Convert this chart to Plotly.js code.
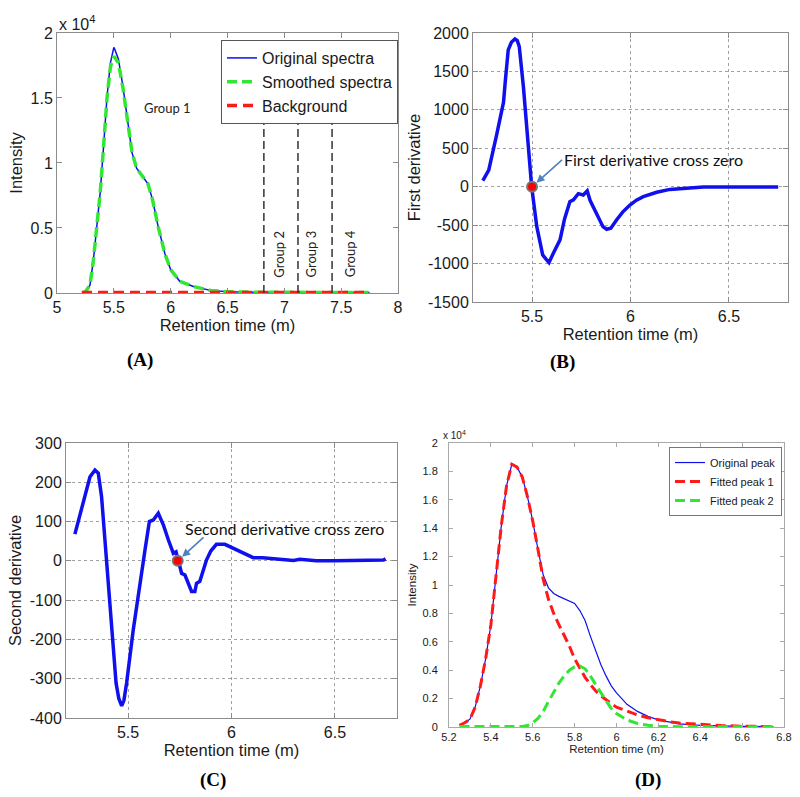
<!DOCTYPE html>
<html><head><meta charset="utf-8">
<script src="https://cdn.plot.ly/plotly-3.0.1.min.js"></script>
<style>html,body{margin:0;padding:0;background:#fff}#chart{width:800px;height:797px}</style>
</head><body><div id="chart"></div>
<script>
// ---------- Panel A (intensity in units of 1e4) ----------
const timeA      = [5.22,5.25,5.29,5.32,5.35,5.38,5.41,5.44,5.47,5.49,5.50,5.51,5.54,5.58,5.62,5.66,5.70,5.75,5.80,5.84,5.89,5.95,6.00,6.08,6.20,6.35,6.50,6.80,7.10,7.40,7.75];
const originalA  = [0.00,0.01,0.06,0.25,0.51,0.77,1.13,1.51,1.77,1.86,1.89,1.87,1.80,1.59,1.33,1.08,0.96,0.90,0.84,0.72,0.51,0.30,0.18,0.09,0.05,0.02,0.01,0.005,0.004,0.004,0.004];
const smoothedA  = [0.00,0.01,0.06,0.25,0.51,0.77,1.13,1.50,1.74,1.81,1.82,1.81,1.77,1.58,1.33,1.08,0.96,0.90,0.84,0.72,0.51,0.30,0.18,0.09,0.05,0.02,0.01,0.005,0.004,0.004,0.004];
const backgroundX = [5.22, 7.75];
const backgroundY = [0.003, 0.003];
const groupBounds = [6.82, 7.12, 7.42];
const groupNames  = ['Group 1','Group 2','Group 3','Group 4'];
const groupNameX  = [5.97, 6.95, 7.23, 7.58];
const groupNameY  = [1.42, 0.30, 0.30, 0.30];

// ---------- Panel B: first derivative ----------
const timeB  = [5.25,5.28,5.32,5.355,5.365,5.379,5.395,5.413,5.425,5.435,5.456,5.476,5.498,5.524,5.554,5.57,5.586,5.608,5.642,5.665,5.692,5.71,5.735,5.76,5.78,5.795,5.811,5.837,5.86,5.879,5.90,5.929,5.96,5.997,6.03,6.065,6.10,6.133,6.20,6.25,6.30,6.37,6.45,6.55,6.65,6.75];
const firstDeriv = [79,217,673,1100,1400,1780,1880,1922,1900,1822,1301,651,0,-520,-888,-940,-988,-866,-692,-420,-195,-170,-90,-107,-55,-180,-260,-412,-520,-554,-540,-433,-330,-238,-175,-129,-95,-73,-35,-25,-12,-5,-3,-2,-3,-5];
const crossBX = [5.5], crossBY = [0];
const yTicksB = [-1500,-1000,-500,0,500,1000,1500,2000];
const yLabelsB = ['-1500','-1000','-500','0','500','1000','1500','2000'];

// ---------- Panel C: second derivative ----------
const timeC = [5.243,5.284,5.316,5.34,5.356,5.372,5.397,5.421,5.442,5.455,5.469,5.48,5.493,5.525,5.558,5.582,5.603,5.622,5.646,5.671,5.695,5.719,5.732,5.743,5.759,5.775,5.79,5.807,5.823,5.831,5.847,5.879,5.90,5.927,5.968,6.008,6.064,6.105,6.15,6.20,6.25,6.30,6.33,6.41,6.50,6.60,6.70,6.735,6.745];
const secondDeriv = [68,155,214,231,223,163,-6,-176,-311,-350,-369,-355,-311,-176,-49,28,100,104,121,91,53,19,23,-2,-32,-36,-55,-78,-78,-57,-52,2,25,42,42,32,19,8,8,5,4,1,4,0,0,0,0,2,5];
const crossCX = [5.74], crossCY = [0];
const yTicksC = [-400,-300,-200,-100,0,100,200,300];
const yLabelsC = ['-400','-300','-200','-100','0','100','200','300'];

// ---------- Panel D (intensity in units of 1e4) ----------
const timeD = [5.25,5.275,5.30,5.325,5.35,5.375,5.40,5.425,5.45,5.475,5.50,5.525,5.55,5.575,5.60,5.625,5.65,5.675,5.70,5.725,5.75,5.775,5.80,5.825,5.85,5.875,5.90,5.925,5.95,5.975,6.00,6.05,6.10,6.15,6.20,6.25,6.30,6.40,6.50,6.60,6.75];
const originalD = [0.012,0.03,0.055,0.14,0.29,0.48,0.72,1.08,1.42,1.70,1.85,1.83,1.76,1.62,1.45,1.25,1.07,0.98,0.94,0.92,0.905,0.89,0.87,0.82,0.75,0.64,0.54,0.44,0.36,0.29,0.24,0.16,0.11,0.075,0.05,0.035,0.022,0.012,0.007,0.004,0.002];
const fittedPeak1 = [0.012,0.03,0.055,0.14,0.29,0.48,0.72,1.08,1.42,1.70,1.85,1.83,1.76,1.62,1.45,1.25,1.04,0.90,0.80,0.72,0.645,0.57,0.48,0.41,0.35,0.30,0.255,0.22,0.19,0.165,0.14,0.11,0.085,0.065,0.05,0.038,0.028,0.017,0.010,0.006,0.003];
const fittedPeak2 = [0.003,0.003,0.003,0.003,0.003,0.003,0.003,0.003,0.003,0.003,0.003,0.003,0.004,0.01,0.03,0.06,0.11,0.18,0.25,0.31,0.36,0.40,0.425,0.43,0.41,0.36,0.30,0.24,0.18,0.13,0.095,0.05,0.025,0.012,0.006,0.003,0.002,0.002,0.002,0.002,0.002];

const F = 'Liberation Sans, Arial, sans-serif';
const BLUE = '#1010ee', GREEN = '#33e633', RED = '#ff1a1a';

const traces = [
  {x: timeA, y: originalA, xaxis:'x', yaxis:'y', mode:'lines', name:'Original spectra', line:{color:BLUE, width:1.5}, legend:'legend'},
  {x: timeA, y: smoothedA, xaxis:'x', yaxis:'y', mode:'lines', name:'Smoothed spectra', line:{color:GREEN, width:3.5, dash:'10px,5px'}, legend:'legend'},
  {x: backgroundX, y: backgroundY, xaxis:'x', yaxis:'y', mode:'lines', name:'Background', line:{color:RED, width:3.5, dash:'10px,6px'}, legend:'legend'},

  {x: timeB, y: firstDeriv, xaxis:'x2', yaxis:'y2', mode:'lines', showlegend:false, line:{color:BLUE, width:3.5}},
  {x: crossBX, y: crossBY, xaxis:'x2', yaxis:'y2', mode:'markers', showlegend:false, marker:{size:10, color:'#ff0000', line:{color:'#777', width:2}}},

  {x: timeC, y: secondDeriv, xaxis:'x3', yaxis:'y3', mode:'lines', showlegend:false, line:{color:BLUE, width:3.5}},
  {x: crossCX, y: crossCY, xaxis:'x3', yaxis:'y3', mode:'markers', showlegend:false, marker:{size:10, color:'#ff0000', line:{color:'#777', width:2}}},

  {x: timeD, y: originalD, xaxis:'x4', yaxis:'y4', mode:'lines', name:'Original peak', line:{color:BLUE, width:1.2}, legend:'legend2'},
  {x: timeD, y: fittedPeak1, xaxis:'x4', yaxis:'y4', mode:'lines', name:'Fitted peak 1', line:{color:RED, width:3, dash:'10px,5px'}, legend:'legend2'},
  {x: timeD, y: fittedPeak2, xaxis:'x4', yaxis:'y4', mode:'lines', name:'Fitted peak 2', line:{color:GREEN, width:3, dash:'10px,5px'}, legend:'legend2'}
];

function ax(extra, small) {
  return Object.assign({
    showline:true, linecolor:'#8c8c8c', linewidth:1, mirror:'ticks',
    ticks:'inside', ticklen: small ? 4 : 5, tickcolor:'#8c8c8c',
    zeroline:false, showgrid:false,
    tickfont:{family:F, size: small ? 11 : 16, color:'#1a1a1a'}
  }, extra);
}
const grid = {showgrid:true, gridcolor:'#a0a0a0', griddash:'dot', gridwidth:1};
const tfont = {family:F, size:16.5, color:'#1a1a1a'};
const sfont = {family:F, size:11.5, color:'#1a1a1a'};
const lfont = {family:'Liberation Serif, serif', size:19, color:'#000'};
const cfont = {family:'Lato, sans-serif', size:16, color:'#111'};

const shapes = groupBounds.map(b => ({type:'line', xref:'x', yref:'y', x0:b, x1:b, y0:0, y1:1.37, line:{color:'#333', width:1.5, dash:'8px,4px'}}));

const annotations = [
  {xref:'paper', yref:'paper', x:0.071, y:0.9711, xanchor:'left', yanchor:'middle', text:'x 10<sup>4</sup>', showarrow:false, font:{family:F, size:16, color:'#1a1a1a'}},
  {xref:'paper', yref:'paper', x:0.551, y:1-435/797, xanchor:'left', yanchor:'middle', text:'x 10<sup>4</sup>', showarrow:false, font:{family:F, size:10, color:'#1a1a1a'}},
  {xref:'x2', yref:'y2', x:crossBX[0], y:crossBY[0], axref:'x2', ayref:'y2', ax:5.652, ay:350, xanchor:'left', yanchor:'middle',
   text:'First derivative cross zero', showarrow:true, arrowhead:2, arrowsize:1, arrowwidth:1.6, arrowcolor:'#4f81bd', standoff:6, font:cfont},
  {xref:'x3', yref:'y3', x:crossCX[0], y:crossCY[0], axref:'x3', ayref:'y3', ax:5.872, ay:63, text:'', showarrow:true, arrowhead:2, arrowsize:1, arrowwidth:1.6, arrowcolor:'#4f81bd', standoff:6},
  {xref:'x3', yref:'y3', x:5.764, y:83, xanchor:'left', yanchor:'middle', text:'Second derivative cross zero', showarrow:false, font:cfont},
  {xref:'paper', yref:'paper', x:140/800, y:1-360/797, xanchor:'center', yanchor:'middle', text:'<b>(A)</b>', showarrow:false, font:lfont},
  {xref:'paper', yref:'paper', x:562/800, y:1-362/797, xanchor:'center', yanchor:'middle', text:'<b>(B)</b>', showarrow:false, font:lfont},
  {xref:'paper', yref:'paper', x:213/800, y:1-780/797, xanchor:'center', yanchor:'middle', text:'<b>(C)</b>', showarrow:false, font:lfont},
  {xref:'paper', yref:'paper', x:648/800, y:1-780/797, xanchor:'center', yanchor:'middle', text:'<b>(D)</b>', showarrow:false, font:lfont}
];
groupNames.forEach((g, i) => annotations.push({
  xref:'x', yref:'y', x:groupNameX[i], y:groupNameY[i], xanchor:'center', yanchor:'middle', text:g, showarrow:false,
  textangle: i === 0 ? 0 : -90, font:{family:'Lato, sans-serif', size:13, color:'#222'}
}));

const layout = {
  width:800, height:797, margin:{l:0, r:0, t:0, b:0},
  paper_bgcolor:'#fff', plot_bgcolor:'#fff', showlegend:true,
  xaxis: ax({domain:[0.07125,0.4975], anchor:'y', range:[5,8], tick0:5, dtick:0.5, title:{text:'Retention time (m)', font:tfont, standoff:4}}),
  yaxis: ax({domain:[0.6324,0.9586], anchor:'x', range:[0,2], tick0:0, dtick:0.5, title:{text:'Intensity', font:tfont, standoff:3}}),
  xaxis2: ax(Object.assign({domain:[0.59125,0.985], anchor:'y2', range:[5.2,6.8], tickvals:[5.5,6,6.5], title:{text:'Retention time (m)', font:tfont, standoff:4}}, grid)),
  yaxis2: ax(Object.assign({domain:[0.6211,0.9586], anchor:'x2', range:[-1500,2000], tickvals:yTicksB, ticktext:yLabelsB, title:{text:'First derivative', font:tfont, standoff:3}}, grid)),
  xaxis3: ax(Object.assign({domain:[0.0825,0.49625], anchor:'y3', range:[5.2,6.8], tickvals:[5.5,6,6.5], title:{text:'Retention time (m)', font:tfont, standoff:4}}, grid)),
  yaxis3: ax(Object.assign({domain:[0.0991,0.4442], anchor:'x3', range:[-400,300], tickvals:yTicksC, ticktext:yLabelsC, title:{text:'Second derivative', font:tfont, standoff:3}}, grid)),
  xaxis4: ax({domain:[0.56125,0.98], anchor:'y4', range:[5.2,6.8], tick0:5.2, dtick:0.2, linecolor:'#aaa', tickcolor:'#aaa', title:{text:'Retention time (m)', font:sfont, standoff:2}}, true),
  yaxis4: ax({domain:[0.0878,0.4442], anchor:'x4', range:[0,2], tick0:0, dtick:0.2, linecolor:'#aaa', tickcolor:'#aaa', ticklabelstandoff:8, title:{text:'Intensity', font:sfont, standoff:3}}, true),
  legend: {x:0.4975, xanchor:'right', y:0.9498, yanchor:'top', bgcolor:'#fff', bordercolor:'#555', borderwidth:1, font:{family:F, size:16, color:'#1a1a1a'}, tracegroupgap:0},
  legend2: {x:0.9775, xanchor:'right', y:0.4391, yanchor:'top', bgcolor:'#fff', bordercolor:'#777', borderwidth:1, font:{family:F, size:11, color:'#1a1a1a'}, tracegroupgap:0},
  shapes: shapes,
  annotations: annotations
};

Plotly.newPlot('chart', traces, layout, {displayModeBar:false, staticPlot:true});
</script></body></html>
